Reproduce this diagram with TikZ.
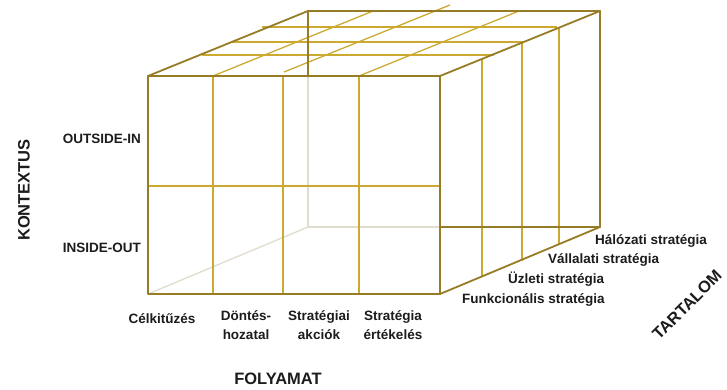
\documentclass[tikz,border=0pt]{standalone}
\usepackage{fontspec}
\setmainfont{Liberation Sans}
\definecolor{edgecol}{RGB}{150,124,36}
\definecolor{gridcol}{RGB}{204,170,50}
\definecolor{hiddencol}{RGB}{224,220,206}
\definecolor{txtcol}{RGB}{28,28,28}
\tikzset{
  edgeline/.style={draw=edgecol, line width=1.8pt, line cap=round, line join=round},
  gridline/.style={draw=gridcol, line width=1.3pt},
  hiddenline/.style={draw=hiddencol, line width=1.3pt},
  lbl/.style={font=\fontsize{13.5}{19}\selectfont\bfseries, text=txtcol, inner sep=0pt},
  axislbl/.style={font=\fontsize{16.5}{20}\selectfont\bfseries, text=txtcol, inner sep=0pt},
}
\begin{document}
\begin{tikzpicture}[x=1pt,y=-1pt]
\useasboundingbox (0,0) rectangle (727,390);
\fill[white] (0,0) rectangle (727,390);
% corners
\coordinate (ftl) at (148,76);
\coordinate (ftr) at (440,76);
\coordinate (fbl) at (148,294);
\coordinate (fbr) at (440,294);
\coordinate (btl) at (308,11);
\coordinate (btr) at (600,11);
\coordinate (bbl) at (308,227);
\coordinate (bbr) at (600,227);
\coordinate (bvf) at (308,76);
\coordinate (bbx) at (440,227);
% hidden lines
\draw[hiddenline] (bvf) -- (bbl);
\draw[hiddenline] (bbl) -- (fbl);
\draw[hiddenline] (bbl) -- (bbx);
% top face grid
\draw[gridline] (202,55) -- (494,55);
\draw[gridline] (232,42) -- (524,42);
\draw[gridline] (262,27) -- (557,27);
\draw[gridline] (213,76) -- (373,11);
\draw[gridline] (284,72) -- (450,5);
\draw[gridline] (359,76) -- (519,11);
% right face verticals
\draw[gridline] (482,59) -- (482,277);
\draw[gridline] (522,43) -- (522,261);
\draw[gridline] (559,28) -- (559,245);
% front face grid
\draw[gridline] (148,186) -- (440,186);
\draw[gridline] (213,76) -- (213,294);
\draw[gridline] (283,76) -- (283,294);
\draw[gridline] (359,76) -- (359,294);
% visible edges
\draw[edgeline] (btl) -- (bvf);
\draw[edgeline] (bbx) -- (bbr);
\draw[edgeline] (ftl) -- (btl) -- (btr) -- (ftr);
\draw[edgeline] (btr) -- (bbr) -- (fbr);
\draw[edgeline] (ftl) rectangle (fbr);
% labels
\node[lbl, anchor=base east] (outin) at (141,144) {OUTSIDE-IN};
\node[lbl, anchor=base east] (inout) at (141,252) {INSIDE-OUT};
\node[axislbl, rotate=90] (kontextus) at (24,190) {KONTEXTUS};
\node[lbl, anchor=base] (celk) at (162,323) {Célkitűzés};
\node[lbl, anchor=north, align=center] (dontes) at (246,310) {Döntés-\\hozatal};
\node[lbl, anchor=north, align=center] (akciok) at (319,310) {Stratégiai\\akciók};
\node[lbl, anchor=north, align=center] (ertek) at (393,310) {Stratégia\\értékelés};
\node[axislbl] (folyamat) at (278,379) {FOLYAMAT};
\node[lbl, anchor=base west] (halo) at (595,244) {Hálózati stratégia};
\node[lbl, anchor=base west] (vall) at (548,263) {Vállalati stratégia};
\node[lbl, anchor=base west] (uzl) at (508,283) {Üzleti stratégia};
\node[lbl, anchor=base west] (funk) at (462,303) {Funkcionális stratégia};
\node[axislbl, rotate=45] (tartalom) at (687,305) {TARTALOM};
\end{tikzpicture}
\end{document}
